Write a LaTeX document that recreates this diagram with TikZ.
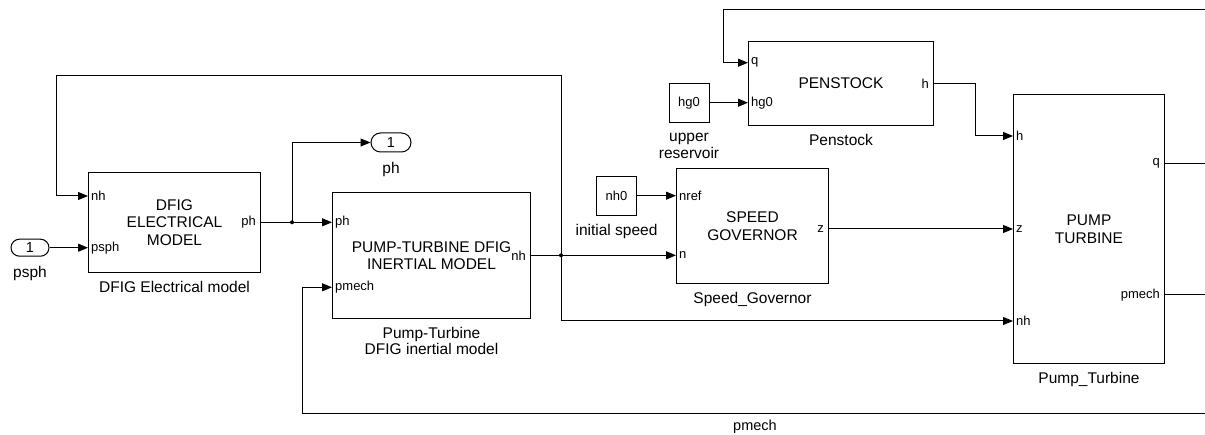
\documentclass[tikz,border=0pt]{standalone}
\usepackage{fontspec}
\setmainfont{Liberation Sans}
\usetikzlibrary{arrows.meta,shapes.misc}
\begin{document}
\begin{tikzpicture}[x=1pt,y=-1pt,
  blk/.style={draw, line width=1pt, anchor=north west, inner sep=0pt, align=center, font=\fontsize{15.5}{17.5}\selectfont},
  capt/.style={anchor=north, inner sep=0pt, align=center, yshift=-8pt, font=\fontsize{15.5}{16.5}\selectfont},
  pinl/.style={inner sep=0pt, anchor=west, xshift=3pt, font=\fontsize{13}{14}\selectfont},
  pinr/.style={inner sep=0pt, anchor=east, xshift=-4pt, font=\fontsize{13}{14}\selectfont},
  sig/.style={line width=1pt, -{Triangle[length=10pt,width=8pt]}},
  wire/.style={line width=1pt},
  io/.style={draw, rounded rectangle, line width=1pt, minimum width=38pt, minimum height=17pt, inner sep=0pt, font=\fontsize{14.5}{16}\selectfont},
  cst/.style={draw, line width=1pt, anchor=north west, minimum width=40pt, minimum height=39pt, inner sep=0pt, font=\fontsize{13}{14}\selectfont},
  dot/.style={circle, fill, inner sep=0pt, minimum size=4pt}
]
\useasboundingbox (0,0) rectangle (1205,435);

% blocks
\node[blk, minimum width=172pt, minimum height=100pt] (dfig) at (88,172) {DFIG\\ELECTRICAL\\MODEL};
\node[blk, minimum width=198pt, minimum height=126pt] (ptd) at (332,192) {PUMP-TURBINE DFIG\\INERTIAL MODEL};
\node[blk, minimum width=185pt, minimum height=84pt] (pen) at (748,41) {PENSTOCK};
\node[blk, minimum width=152pt, minimum height=115pt] (sg) at (676,168) {SPEED\\GOVERNOR};
\node[blk, minimum width=151pt, minimum height=269pt] (pt) at (1013,94) {PUMP\\TURBINE};
\node[cst] (hg0) at (668.5,83.3) {hg0};
\node[cst] (nh0) at (596,176) {nh0};

% captions
\node[capt] (c-dfig) at (dfig.south) {DFIG Electrical model};
\node[capt] (c-ptd) at (ptd.south) {Pump-Turbine\\DFIG inertial model};
\node[capt] (c-pen) at (pen.south) {Penstock};
\node[capt] (c-sg) at (sg.south) {Speed\_Governor};
\node[capt] (c-pt) at (pt.south) {Pump\_Turbine};
\node[capt, yshift=-2pt] (c-hg0) at (hg0.south) {upper\\reservoir};
\node[capt] (c-nh0) at (nh0.south) {initial speed};

% in/out ports
\node[io] (psph) at (30,247.7) {1};
\node[capt, yshift=-1.5pt] (c-psph) at (psph.south) {psph};
\node[io, minimum width=40pt, minimum height=19pt] (ph) at (391,142.5) {1};
\node[capt, yshift=-1.5pt] (c-ph) at (ph.south) {ph};

% port coordinates
\coordinate (dfig-nh) at (88,196);
\coordinate (dfig-psph) at (88,247.7);
\coordinate (dfig-ph) at (260,222.3);
\coordinate (ptd-ph) at (332,222.3);
\coordinate (ptd-nh) at (530,255.3);
\coordinate (ptd-pmech) at (332,287.3);
\coordinate (pen-q) at (748,62.7);
\coordinate (pen-hg0) at (748,102.7);
\coordinate (pen-h) at (933,83.3);
\coordinate (sg-nref) at (676,195.7);
\coordinate (sg-n) at (676,255.3);
\coordinate (sg-z) at (828,229);
\coordinate (pt-h) at (1013,136);
\coordinate (pt-z) at (1013,229);
\coordinate (pt-nh) at (1013,321);
\coordinate (pt-q) at (1164,163.3);
\coordinate (pt-pmech) at (1164,295);

% port labels
\node[pinl] (l1) at (dfig-nh) {nh};
\node[pinl] (l2) at (dfig-psph) {psph};
\node[pinr] (l3) at (dfig-ph) {ph};
\node[pinl] (l4) at (ptd-ph) {ph};
\node[pinl] (l5) at (ptd-pmech) {pmech};
\node[pinr] (l6) at (ptd-nh) {nh};
\node[pinl] (l7) at (pen-q) {q};
\node[pinl] (l8) at (pen-hg0) {hg0};
\node[pinr] (l9) at (pen-h) {h};
\node[pinl] (l10) at (sg-nref) {nref};
\node[pinl] (l11) at (sg-n) {n};
\node[pinr] (l12) at (sg-z) {z};
\node[pinl] (l13) at (pt-h) {h};
\node[pinl] (l14) at (pt-z) {z};
\node[pinl] (l15) at (pt-nh) {nh};
\node[pinr] (l16) at (pt-q) {q};
\node[pinr] (l17) at (pt-pmech) {pmech};

% branch points and free ends
\node[dot] (b1) at (292,222.3) {};
\node[dot] (b2) at (561,255.3) {};
\coordinate (e-q) at (1205,163.3);
\coordinate (e-pm) at (1205,295);
\coordinate (e-top) at (1205,9.3);
\coordinate (e-bot) at (1205,413.3);

% connectors
\draw[sig] (psph.east) -- (dfig-psph);
\draw[wire] (dfig-ph) -- (b1.center);
\draw[sig] (b1.center) -- (ptd-ph);
\draw[sig] (b1.center) |- (ph.west);
\draw[wire] (ptd-nh) -- (b2.center);
\draw[sig] (b2.center) -- (sg-n);
\draw[sig] (b2.center) -- (561,76) -- (56,76) |- (dfig-nh);
\draw[sig] (b2.center) |- (pt-nh);
\draw[sig] (nh0.east |- sg-nref) -- (sg-nref);
\draw[sig] (hg0.east |- pen-hg0) -- (pen-hg0);
\draw[sig] (pen-h) -- (975.4,83.3) |- (pt-h);
\draw[sig] (sg-z) -- (pt-z);
\draw[wire] (pt-q) -- (e-q);
\draw[wire] (pt-pmech) -- (e-pm);
\draw[sig] (e-top) -- (723.5,9.3) |- (pen-q);
\draw[sig] (e-bot) -- (302,413.3) |- (ptd-pmech);
\node[capt, yshift=1.5pt, font=\fontsize{14.5}{15}\selectfont] (l-pm) at (755,413.3) {pmech};
\end{tikzpicture}
\end{document}
